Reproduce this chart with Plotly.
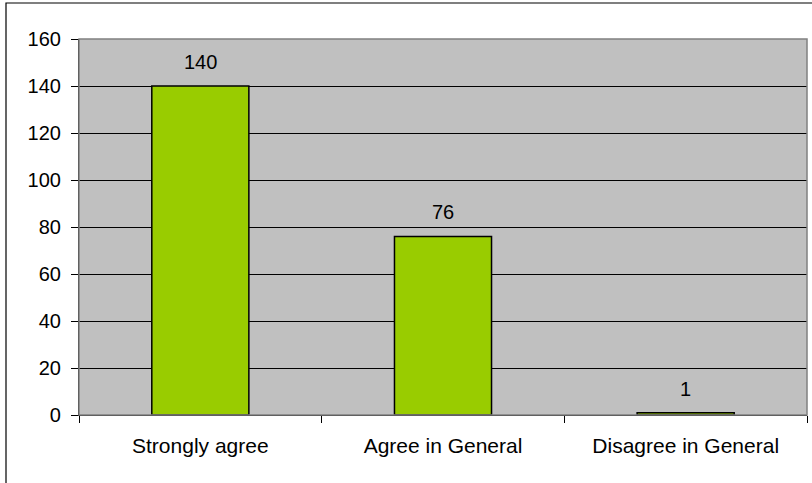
import plotly.graph_objects as go

categories = ["Strongly agree", "Agree in General", "Disagree in General"]
values = [140, 76, 1]
y_ticks = [0, 20, 40, 60, 80, 100, 120, 140, 160]

W, H = 812, 483
L, R, T, B = 79, 5, 39, 68
pw, ph = W - L - R, H - T - B

font = dict(family="Liberation Sans, Arial, sans-serif", size=20, color="black")
catfont = dict(family="Liberation Sans, Arial, sans-serif", size=21, color="black")

fig = go.Figure()
fig.add_trace(go.Bar(
    x=categories, y=values,
    marker=dict(color="#99CC00", line=dict(color="black", width=1.5)),
    width=0.4,
    hoverinfo="skip",
))

for c, v in zip(categories, values):
    fig.add_annotation(x=c, y=v, text=str(v), showarrow=False,
                       yanchor="bottom", yshift=11, font=font)

# plot-area border (gray)
fig.add_shape(type="rect", xref="paper", yref="paper", x0=0, x1=1, y0=0, y1=1,
              line=dict(color="#808080", width=1.5), layer="above")
# outer chart border
fig.add_shape(type="rect", xref="paper", yref="paper",
              x0=(6 - L) / pw, x1=1 + (R + 10) / pw,
              y0=-(B + 10) / ph, y1=1 + (T - 3) / ph,
              line=dict(color="black", width=1.2), layer="above")

fig.update_layout(
    width=W, height=H,
    margin=dict(l=L, r=R, t=T, b=B),
    paper_bgcolor="white", plot_bgcolor="#C0C0C0",
    font=font, showlegend=False,
    bargap=0.6,
)
fig.update_yaxes(range=[0, 160], tickvals=y_ticks, ticktext=[str(t) for t in y_ticks],
                 showgrid=True, gridcolor="black", gridwidth=1,
                 showline=True, linecolor="black", linewidth=1.2,
                 ticks="outside", ticklen=7, tickcolor="black", tickwidth=1,
                 ticklabelstandoff=6, zeroline=False, tickfont=font)
fig.update_xaxes(showline=True, linecolor="black", linewidth=1.2,
                 ticks="outside", tickson="boundaries", ticklen=7,
                 tickcolor="black", tickwidth=1, showgrid=False,
                 ticklabelstandoff=12, tickfont=catfont)

fig.write_html("out.html")
